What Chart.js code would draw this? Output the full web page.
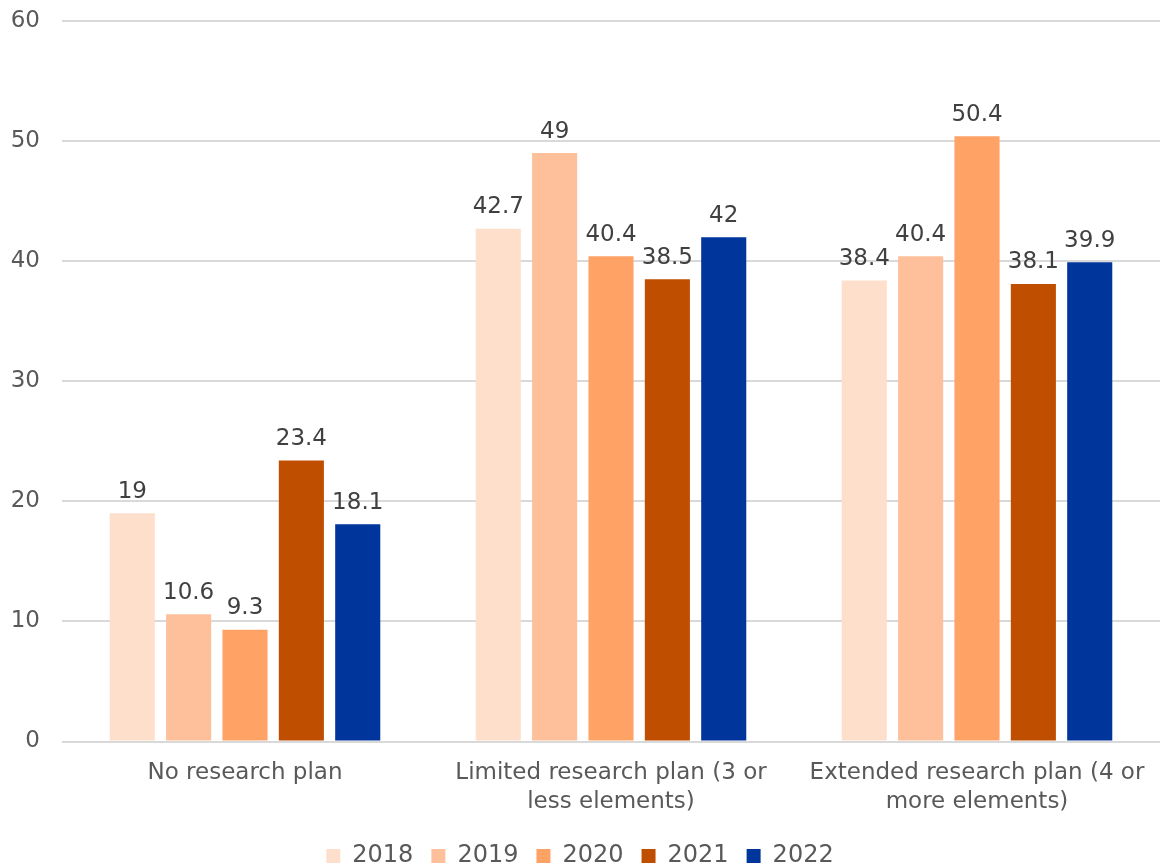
<!DOCTYPE html>
<html>
<head>
<meta charset="utf-8">
<script src="https://cdn.jsdelivr.net/npm/chart.js@4"></script>
<style>
    body { margin: 0; background: #fff; }
    #wrap { width: 1160px; height: 866px; }
</style>
</head>
<body>
<div id="wrap"><canvas id="grafico"></canvas></div>
<script>
const categorias = [
    "No research plan",
    ["Limited research plan (3 or", "less elements)"],
    ["Extended research plan (4 or", "more elements)"]
];
const anos = ["2018", "2019", "2020", "2021", "2022"];
const valores2018 = [19, 42.7, 38.4];
const valores2019 = [10.6, 49, 40.4];
const valores2020 = [9.3, 40.4, 50.4];
const valores2021 = [23.4, 38.5, 38.1];
const valores2022 = [18.1, 42, 39.9];
const cores = ["#fddfcb", "#fdc09a", "#ffa266", "#bf4e00", "#00359c"];

const fonte = "DejaVu Sans, Verdana, sans-serif";

// rótulos de valor acima de cada barra
const rotulosBarras = {
    id: "rotulosBarras",
    afterDatasetsDraw(chart) {
        const ctx = chart.ctx;
        ctx.save();
        ctx.font = "23px " + fonte;
        ctx.fillStyle = "#404040";
        ctx.textAlign = "center";
        ctx.textBaseline = "bottom";
        chart.data.datasets.forEach((ds, i) => {
            chart.getDatasetMeta(i).data.forEach((bar, j) => {
                ctx.fillText(String(ds.data[j]), bar.x, bar.y - 10);
            });
        });
        ctx.restore();
    }
};

const series = [valores2018, valores2019, valores2020, valores2021, valores2022];

new Chart(document.getElementById("grafico").getContext("2d"), {
    type: "bar",
    data: {
        labels: categorias,
        datasets: anos.map((ano, i) => ({
            label: ano,
            data: series[i],
            backgroundColor: cores[i],
            barPercentage: 0.8,
            categoryPercentage: 0.77
        }))
    },
    options: {
        responsive: true,
        maintainAspectRatio: false,
        animation: false,
        layout: { padding: { top: 0, left: 0, right: 0, bottom: -12 } },
        plugins: {
            legend: {
                position: "bottom",
                labels: {
                    color: "#595959",
                    font: { family: fonte, size: 24 },
                    usePointStyle: true,
                    pointStyle: "rect",
                    boxWidth: 14,
                    boxHeight: 14,
                    padding: 18
                }
            },
            tooltip: { enabled: false }
        },
        scales: {
            y: {
                min: 0,
                max: 60,
                afterFit(scale) {
                    scale.width = 62;
                    scale.paddingTop = 21;
                },
                ticks: {
                    stepSize: 10,
                    color: "#595959",
                    font: { family: fonte, size: 23 },
                    padding: 22
                },
                grid: { color: "#d9d9d9", lineWidth: 2, drawTicks: false },
                border: { display: false }
            },
            x: {
                afterFit(scale) { scale.height += 1; },
                ticks: {
                    color: "#595959",
                    font: { family: fonte, size: 23, lineHeight: 1.25 },
                    padding: 9,
                    maxRotation: 0
                },
                grid: { display: false },
                border: { display: false }
            }
        }
    },
    plugins: [rotulosBarras]
});
</script>
</body>
</html>
